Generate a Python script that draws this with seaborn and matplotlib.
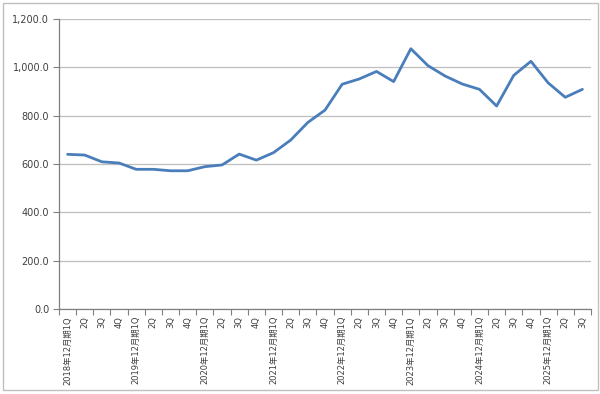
import matplotlib
matplotlib.use("Agg")
import matplotlib.pyplot as plt
import seaborn as sns
import numpy as np
import pandas as pd
from matplotlib.ticker import FuncFormatter, FixedLocator
from matplotlib.patches import Rectangle

years = ["2018", "2019", "2020", "2021", "2022", "2023", "2024", "2025"]
quarters = ["1Q", "2Q", "3Q", "4Q"]
labels = []
for y in years:
    for q in quarters:
        if y == "2025" and q == "4Q":
            continue
        labels.append(f"{y}年12月期1Q" if q == "1Q" else q)

values = [640, 637, 609, 604, 578, 578, 572, 572, 589, 596,
          641, 616, 647, 699, 772, 823, 930, 952, 983, 941,
          1077, 1007, 964, 931, 909, 840, 967, 1025, 936, 876, 909]

sns.set_theme(style="white")
plt.rcParams['font.family'] = ['DejaVu Sans', 'Noto Sans CJK JP']

df = pd.DataFrame({"idx": np.arange(len(values)), "value": values})

fig = plt.figure(figsize=(6.0, 3.94), dpi=100)
ax = fig.add_axes([59/600, 1-309/394, (591-59)/600, (309-19)/394])

sns.lineplot(data=df, x="idx", y="value", ax=ax, color="#4A7EBB", linewidth=2.0)

ax.set_xlim(-0.5, len(values)-0.5)
ax.set_ylim(0, 1200)
ax.set_yticks(np.arange(0, 1201, 200))
ax.yaxis.set_major_formatter(FuncFormatter(lambda v, p: f"{v:,.1f}"))
ax.grid(axis="y", color="#BFBFBF", linewidth=0.9)
ax.set_axisbelow(True)

ax.set_xticks(np.arange(len(values)))
ax.set_xticklabels(labels, rotation=90, fontsize=6,
                   family=['DejaVu Sans', 'Noto Sans CJK JP'], color="#404040")
ax.xaxis.set_minor_locator(FixedLocator(np.arange(-0.5, len(values), 1.0)))
ax.tick_params(axis="x", which="major", length=0, pad=5)
ax.tick_params(axis="x", which="minor", length=4, width=0.8, color="#808080", direction="out", bottom=True)
ax.tick_params(axis="y", which="major", length=4, width=0.8, color="#808080", direction="out", left=True,
               labelsize=7, labelcolor="#404040", pad=3)

for s in ["top", "right"]:
    ax.spines[s].set_visible(False)
for s in ["left", "bottom"]:
    ax.spines[s].set_color("#808080")
    ax.spines[s].set_linewidth(0.9)

ax.set_xlabel("")
ax.set_ylabel("")

fig.patches.append(Rectangle((2.5/600, 1-390/394), 595/600, 387.5/394, transform=fig.transFigure,
                             fill=False, edgecolor="#BFBFBF", linewidth=1.0))

fig.savefig("out.png", dpi=100)
